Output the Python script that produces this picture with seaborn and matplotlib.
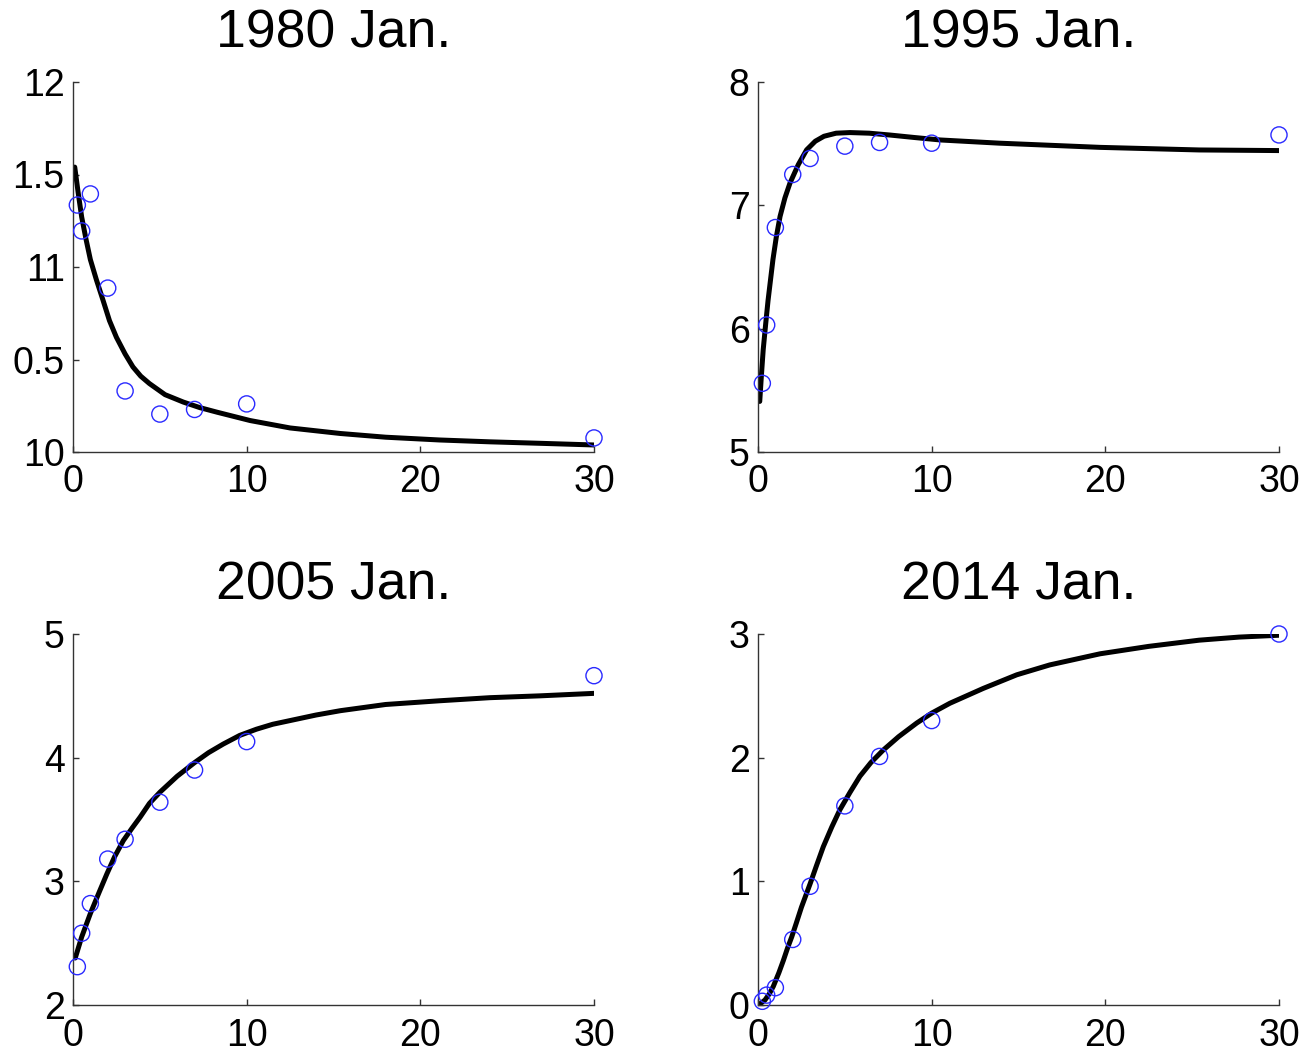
import numpy as np
import pandas as pd
import matplotlib
matplotlib.use("Agg")
import matplotlib.pyplot as plt
import seaborn as sns

# ---------------- data ----------------
titles = ["1980 Jan.", "1995 Jan.", "2005 Jan.", "2014 Jan."]
maturities = [0.25, 0.5, 1, 2, 3, 5, 7, 10, 30]

obs_1980 = [11.335, 11.195, 11.395, 10.886, 10.33, 10.205, 10.23, 10.26, 10.076]
obs_1995 = [5.557, 6.03, 6.82, 7.25, 7.38, 7.48, 7.51, 7.504, 7.571]
obs_2005 = [2.31, 2.58, 2.82, 3.18, 3.34, 3.64, 3.90, 4.13, 4.663]
obs_2014 = [0.03, 0.08, 0.14, 0.53, 0.96, 1.61, 2.01, 2.30, 3.0]

fit_x_1980 = [0.1, 0.3, 0.5, 0.75, 1.0, 1.35, 1.73, 2.1, 2.5, 3.0, 3.45, 3.9, 4.4, 5.3,
              6.35, 7.3, 8.3, 10.2, 12.5, 15.4, 18.0, 21.1, 24.0, 26.9, 30]
fit_y_1980 = [11.54, 11.40, 11.27, 11.15, 11.04, 10.93, 10.82, 10.71, 10.62, 10.53, 10.46,
              10.41, 10.37, 10.31, 10.27, 10.24, 10.215, 10.17, 10.13, 10.10, 10.08, 10.065,
              10.055, 10.047, 10.038]

fit_x_1995 = [0.1, 0.2, 0.3, 0.45, 0.58, 0.86, 1.05, 1.27, 1.55, 1.84, 2.32, 2.8, 3.3, 3.8,
              4.5, 5.3, 6.4, 7.6, 9.0, 10.5, 13.9, 19.7, 25.4, 30]
fit_y_1995 = [5.41, 5.63, 5.83, 6.05, 6.23, 6.56, 6.74, 6.91, 7.06, 7.18, 7.33, 7.45, 7.52,
              7.56, 7.585, 7.59, 7.585, 7.57, 7.55, 7.53, 7.504, 7.47, 7.449, 7.444]

fit_x_2005 = [0.13, 0.5, 1.0, 1.5, 1.95, 2.4, 2.9, 3.4, 3.87, 4.4, 5.0, 6.0, 7.0, 7.8, 8.65,
              9.6, 10.56, 11.5, 12.5, 14.0, 15.4, 18.0, 21.1, 24.0, 26.9, 30]
fit_y_2005 = [2.38, 2.55, 2.74, 2.91, 3.06, 3.20, 3.33, 3.43, 3.52, 3.63, 3.72, 3.85, 3.96,
              4.04, 4.11, 4.18, 4.23, 4.27, 4.30, 4.345, 4.38, 4.43, 4.46, 4.485, 4.50, 4.52]

fit_x_2014 = [0.12, 0.4, 0.65, 0.88, 1.2, 1.46, 1.7, 1.94, 2.2, 2.5, 3.0, 3.35, 3.76, 4.25,
              4.72, 5.3, 5.87, 6.5, 7.2, 8.1, 9.14, 10.0, 11.05, 12.97, 14.9, 16.8, 19.7,
              22.5, 25.4, 27.7, 30]
fit_y_2014 = [0.01, 0.04, 0.09, 0.15, 0.26, 0.36, 0.46, 0.55, 0.66, 0.79, 0.98, 1.12, 1.28,
              1.44, 1.58, 1.72, 1.85, 1.96, 2.06, 2.17, 2.28, 2.36, 2.44, 2.56, 2.67, 2.75,
              2.84, 2.90, 2.95, 2.975, 2.99]

ylims = [(10, 12), (5, 8), (2, 5), (0, 3)]
yticks = [[10, 10.5, 11, 11.5, 12], [5, 6, 7, 8], [2, 3, 4, 5], [0, 1, 2, 3]]
yticklabels = [["10", "0.5", "11", "1.5", "12"], ["5", "6", "7", "8"],
               ["2", "3", "4", "5"], ["0", "1", "2", "3"]]
xticks = [0, 10, 20, 30]

obs = [obs_1980, obs_1995, obs_2005, obs_2014]
fits = [(fit_x_1980, fit_y_1980), (fit_x_1995, fit_y_1995),
        (fit_x_2005, fit_y_2005), (fit_x_2014, fit_y_2014)]

# ---------------- style ----------------
sns.set_style("white")
plt.rcParams['font.family'] = ['Liberation Sans', 'DejaVu Sans']
plt.rcParams['text.color'] = 'black'

W, H = 1303, 1052
fig = plt.figure(figsize=(W / 100, H / 100), dpi=100)

# axes boxes in pixels: left, top, right, bottom
boxes = [(73, 82, 594, 452), (758, 82, 1279, 452),
         (73, 634, 594, 1005), (758, 634, 1279, 1005)]

spine_col = "#333333"
for i, (l, t, r, b) in enumerate(boxes):
    ax = fig.add_axes([l / W, 1 - b / H, (r - l) / W, (b - t) / H])
    fx, fy = fits[i]
    sns.lineplot(x=fx, y=fy, ax=ax, color="black", linewidth=3.6, sort=False,
                 estimator=None, zorder=2)
    sns.scatterplot(x=maturities, y=obs[i], ax=ax, marker="o", s=135,
                    facecolor="none", edgecolor="#2a2aff", linewidth=1.0, zorder=3,
                    clip_on=False)
    ax.set_xlim(0, 30)
    ax.set_ylim(*ylims[i])
    ax.set_xticks(xticks)
    ax.set_xticklabels([str(v) for v in xticks])
    ax.set_yticks(yticks[i])
    ax.set_yticklabels(yticklabels[i])
    ax.tick_params(direction="in", length=4, width=1, colors=spine_col,
                   labelcolor="black", labelsize=27,
                   bottom=True, left=True, top=False, right=False)
    ax.tick_params(axis="x", pad=9)
    ax.tick_params(axis="y", pad=6)
    for s in ["top", "right"]:
        ax.spines[s].set_visible(False)
    for s in ["left", "bottom"]:
        ax.spines[s].set_color(spine_col)
        ax.spines[s].set_linewidth(1.0)
    ax.set_title(titles[i], fontsize=38.5, pad=25, color="black")
    ax.set_xlabel("")
    ax.set_ylabel("")
    ax.grid(False)

fig.savefig("out.png", dpi=100, facecolor="white")
